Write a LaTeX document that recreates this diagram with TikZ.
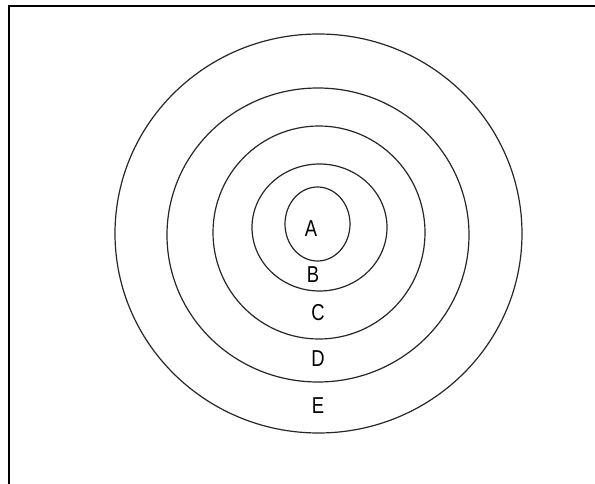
\documentclass[tikz,border=0pt]{standalone}
\usepackage{fontspec}
\setmainfont{Liberation Sans}[FakeStretch=0.8]
\begin{document}
\begin{tikzpicture}[x=1pt,y=-1pt,
  ring/.style={draw=black!85, line width=1.2pt},
  frame/.style={draw=black, line width=2pt},
  lab/.style={font=\fontsize{23}{23}\selectfont, inner sep=0pt}]
\useasboundingbox (0,0) rectangle (595,484);
\draw[frame] (9,484) -- (9,6) -- (595,6);
\draw[ring] (318.5,233.5) ellipse [x radius=203.5, y radius=199.5];
\draw[ring] (318,235) ellipse [x radius=151, y radius=147];
\draw[ring] (319,232.5) ellipse [x radius=106, y radius=106.5];
\draw[ring] (319.5,227.5) ellipse [x radius=67.5, y radius=63.5];
\draw[ring] (317.5,224) ellipse [x radius=32.5, y radius=37];
\node[lab] (A) at (311,228.5) {A};
\node[lab] (B) at (313,275) {B};
\node[lab] (C) at (318,312.5) {C};
\node[lab] (D) at (318,358.5) {D};
\node[lab] (E) at (318,406) {E};
\end{tikzpicture}
\end{document}
